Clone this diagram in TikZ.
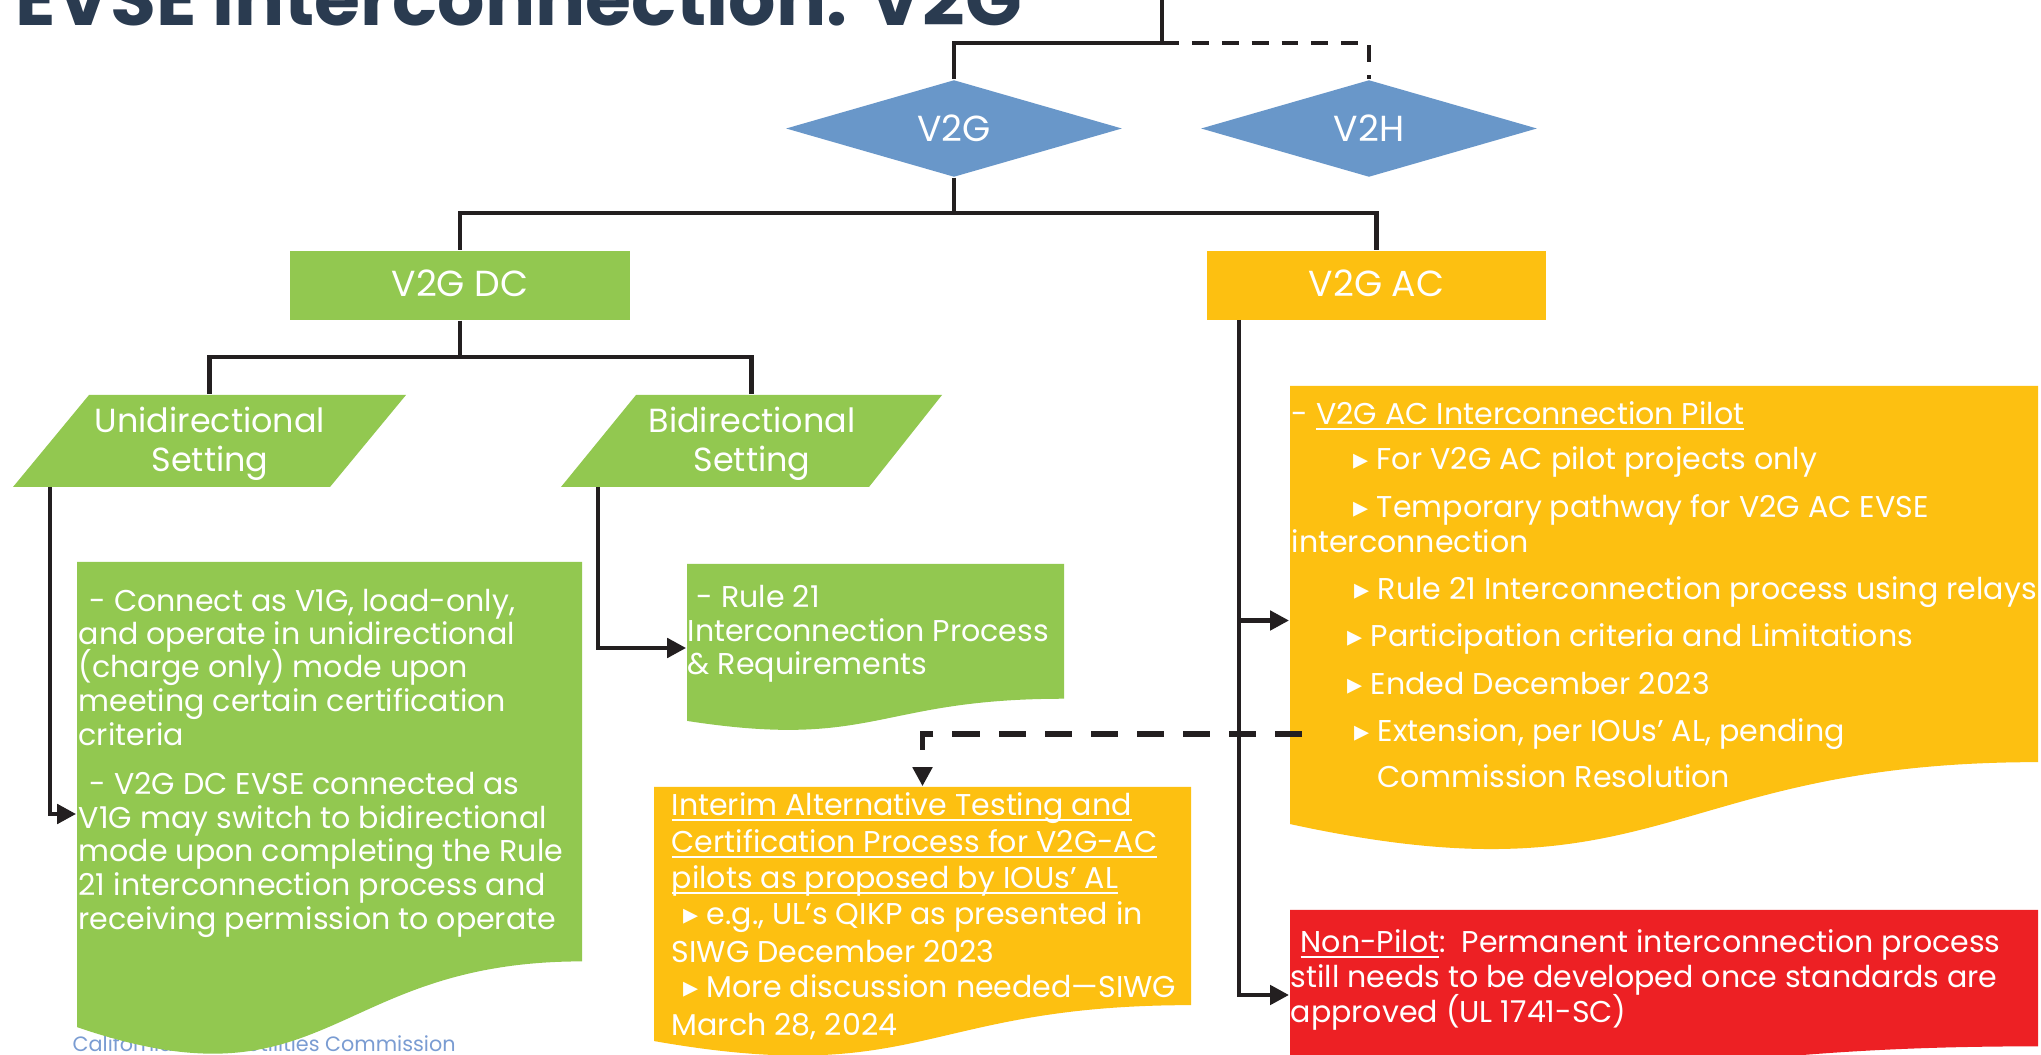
\documentclass[tikz,border=0pt]{standalone}
\usepackage{fontspec}
\setmainfont{Poppins}
\newfontfamily\symf{DejaVu Sans}
\usepackage{graphicx}
\usetikzlibrary{arrows.meta,shapes.geometric}
\definecolor{grn}{HTML}{92C850}
\definecolor{ylw}{HTML}{FDC011}
\definecolor{rdd}{HTML}{ED2024}
\definecolor{blu}{HTML}{6997C9}
\definecolor{navy}{HTML}{2A3B50}
\definecolor{foot}{HTML}{7A9CD2}
\definecolor{ink}{HTML}{231F20}
\newsavebox\myulbox
\newcommand\myul[1]{\sbox\myulbox{#1}\rlap{\rule[-1.4pt]{\wd\myulbox}{0.45pt}}\usebox\myulbox}
\newcommand\fbody{\fontsize{8.55pt}{9.5pt}\selectfont}
\newcommand\flab{\fontsize{9.5pt}{10pt}\selectfont}
\newcommand\fbig{\fontsize{10.3pt}{11pt}\selectfont}
\newcommand\bul{{\symf ▸}}
\newcommand\docfill[5]{\fill[#1] (#2,#3) -- (#4,#3) -- (#4,{#3+0.802*#5}) .. controls ({(#2+#4)/2},{#3+0.802*#5}) and ({(#2+#4)/2},{#3+1.1075*#5}) .. (#2,{#3+0.934*#5}) -- cycle;}
\begin{document}
\begin{tikzpicture}[x=0.01cm,y=-0.01cm,
  ln/.style={draw=ink,line width=1.4pt},
  dln/.style={draw=ink,line width=1.4pt,dash pattern=on 4.8pt off 3.7pt},
  ddash/.style={draw=ink,line width=1.7pt,dash pattern=on 7.7pt off 5.4pt},
  arr/.style={ln,-{Triangle[length=5.4pt,width=5.4pt]}},
  darr/.style={ddash,-{Triangle[length=5.4pt,width=5.4pt]}},
  txt/.style={inner sep=0,anchor=base west,text=white,font=\fbody},
  lab/.style={inner sep=0,anchor=base,text=white,font=\flab},
  hold/.style={draw=none,fill=none,inner sep=0,rectangle},
  dia/.style={diamond,fill=blu,inner sep=0,aspect=3.45,minimum width=3.36cm,minimum height=0.97cm,text=white,font=\fbig},
  bx/.style={rectangle,inner sep=0,minimum width=3.39cm,minimum height=0.69cm,text=white,font=\flab}]
\useasboundingbox (0,0) rectangle (2041,1055);
\clip (0,0) rectangle (2041,1055);
\fill[white] (0,0) rectangle (2041,1055);

% title and footer
\node[anchor=base west,inner sep=0,text=navy] (title) at (15,26) {\resizebox{10.06cm}{!}{\bfseries EVSE Interconnection: V2G}};
\node[anchor=base west,inner sep=0,text=foot,font=\fontsize{5.9pt}{6.5pt}\selectfont] (footer) at (72,1052) {California Public Utilities Commission};

% diamonds
\node[dia] (v2g) at (954,128.5) {V2G};
\node[dia] (v2h) at (1369,128.5) {V2H};

% level 2 boxes
\node[bx,fill=grn] (dc) at (460,285.5) {};
\node[lab,font=\fbig] (dct) at (460,297) {V2G DC};
\node[bx,fill=ylw] (ac) at (1376.5,285.5) {};
\node[lab,font=\fbig] (act) at (1376.5,297) {V2G AC};

% parallelograms
\fill[grn] (89,395) -- (406,395) -- (330,487) -- (13,487) -- cycle;
\fill[grn] (636,395) -- (942,395) -- (869,487) -- (561,487) -- cycle;
\node[hold,minimum width=3.93cm,minimum height=0.92cm] (uni) at (209.5,441) {};
\node[hold,minimum width=3.81cm,minimum height=0.92cm] (bi) at (751.5,441) {};
\node[lab] (uni1) at (210,433) {Unidirectional};
\node[lab] (uni2) at (210,472) {Setting};
\node[lab] (bi1) at (752,433) {Bidirectional};
\node[lab] (bi2) at (752,472) {Setting};

% document boxes
\docfill{grn}{77}{562}{582}{498}
\docfill{grn}{687}{564}{1064}{168}
\docfill{ylw}{654}{787}{1191}{272}
\docfill{ylw}{1290}{386}{2038}{469}
\docfill{rdd}{1290}{910}{2038}{170}
\node[hold,minimum width=5.05cm,minimum height=5.04cm] (g1) at (329.5,814) {};
\node[hold,minimum width=3.77cm,minimum height=1.68cm] (r21) at (875.5,648) {};
\node[hold,minimum width=5.37cm,minimum height=2.72cm] (itm) at (922.5,923) {};
\node[hold,minimum width=7.48cm,minimum height=4.69cm] (byl) at (1664,620.5) {};
\node[hold,minimum width=7.48cm,minimum height=1.70cm] (red) at (1664,995) {};

% texts
\foreach \xx/\yy/\ss [count=\k] in {
  89/612/{- Connect as V1G, load-only,},
  78/645/{and operate in unidirectional},
  78/678/{(charge only) mode upon},
  78/712/{meeting certain certification},
  78/746/{criteria},
  89/795/{- V2G DC EVSE connected as},
  78/829/{V1G may switch to bidirectional},
  78/862/{mode upon completing the Rule},
  78/896/{21 interconnection process and},
  78/930/{receiving permission to operate}}
  \node[txt] (ga\k) at (\xx,\yy) {\ss};

\foreach \xx/\yy/\ss [count=\k] in {
  696/608/{- Rule 21},
  687/642/{Interconnection Process},
  687/675/{\& Requirements}}
  \node[txt] (ra\k) at (\xx,\yy) {\ss};

\foreach \xx/\yy/\ss [count=\k] in {
  671/816/{\myul{Interim Alternative Testing and}},
  671/853/{\myul{Certification Process for V2G-AC}},
  671/889/{\myul{pilots as proposed by IOUs’ AL}},
  683/925/{\bul\ e.g., UL’s QIKP as presented in},
  671/962/{SIWG December 2023},
  683/998/{\bul\ More discussion needed—SIWG},
  671/1035/{March 28, 2024}}
  \node[txt] (ia\k) at (\xx,\yy) {\ss};

\foreach \xx/\yy/\ss [count=\k] in {
  1291/425/{- \myul{V2G AC Interconnection Pilot}},
  1353/470/{\bul\ For V2G AC pilot projects only},
  1353/518/{\bul\ Temporary pathway for V2G AC EVSE},
  1291/553/{interconnection},
  1354/600/{\bul\ Rule 21 Interconnection process using relays},
  1347/647/{\bul\ Participation criteria and Limitations},
  1347/695/{\bul\ Ended December 2023},
  1354/742/{\bul\ Extension, per IOUs’ AL, pending},
  1377/788/{Commission Resolution}}
  \node[txt] (ya\k) at (\xx,\yy) {\ss};

\foreach \xx/\yy/\ss [count=\k] in {
  1300/953/{\myul{Non-Pilot}:\ \ Permanent interconnection process},
  1290/988/{still needs to be developed once standards are},
  1290/1022/{approved (UL 1741-SC)}}
  \node[txt] (na\k) at (\xx,\yy) {\ss};

% connectors
\coordinate (top) at (1162,0);
\coordinate (j1) at (1162,43);
\coordinate (j2) at (954,213);
\coordinate (j3) at (460,357);
\coordinate (uo) at (50,487);
\coordinate (bo) at (598,487);
\coordinate (aco) at (1239,320);
\coordinate (ds) at (1302,734);
\draw[ln] (top) -- (j1) -| (v2g.north);
\draw[dln] (j1) -| (v2h.north);
\draw[ln] (v2g.south) -- (j2) -| (dc.north);
\draw[ln] (j2) -| (ac.north);
\draw[ln] (dc.south) -- (j3) -| (uni.north);
\draw[ln] (j3) -| (bi.north);
\draw[arr] (uo) |- (g1.west);
\draw[arr] (bo) |- (r21.west);
\draw[arr] (aco) |- (red.west);
\draw[arr] (aco |- byl.west) -- (byl.west);
\draw[darr] (ds) -| (itm.north);
\end{tikzpicture}
\end{document}
